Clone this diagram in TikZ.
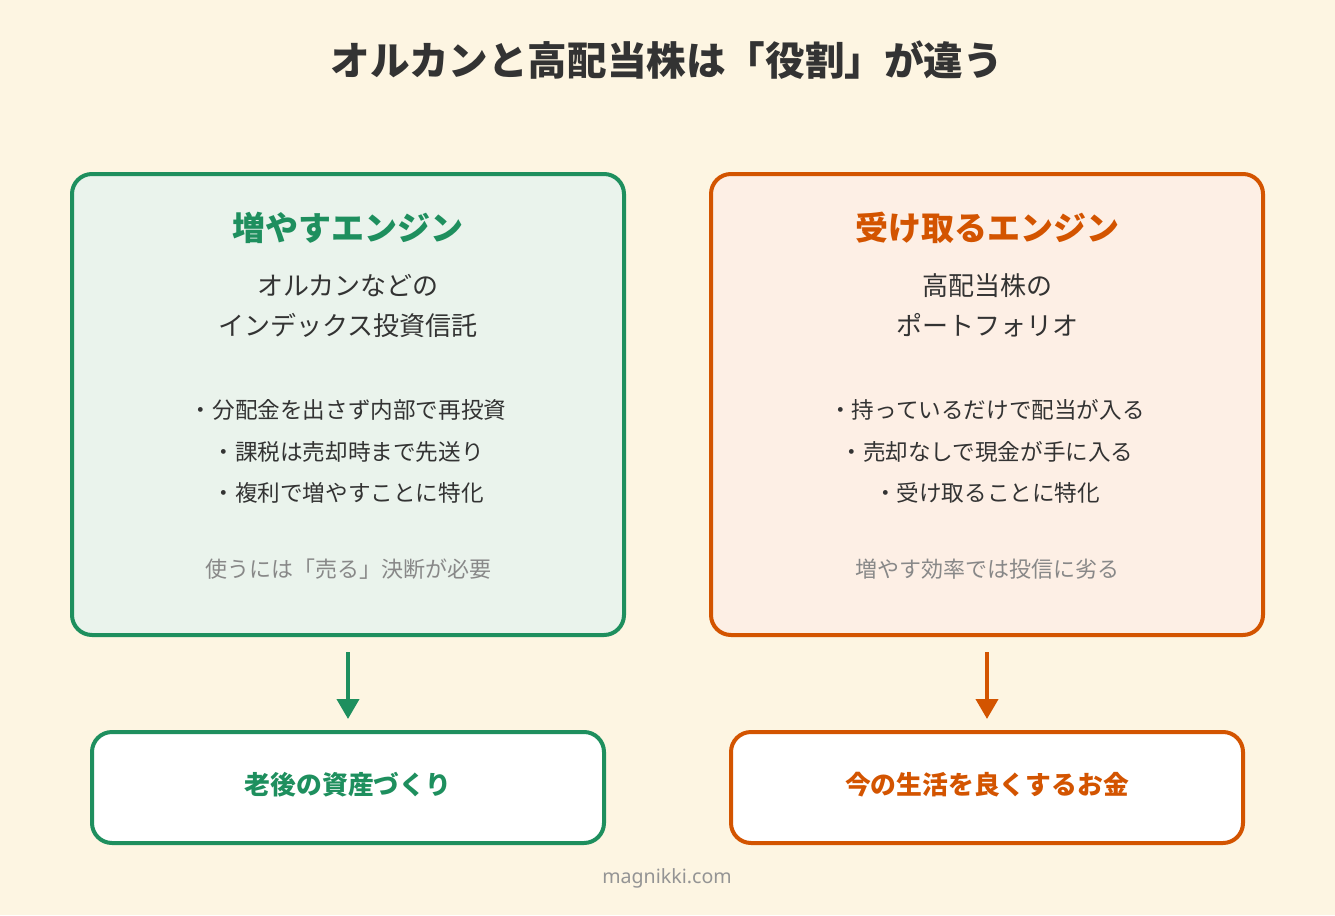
\documentclass[tikz,border=0pt]{standalone}
\usepackage{fontspec}
\setmainfont{Noto Sans CJK JP}
\newfontfamily\latinfont{Noto Sans}
\usetikzlibrary{arrows.meta}
\definecolor{bg}{HTML}{FDF5E2}
\definecolor{grn}{HTML}{1E8F5E}
\definecolor{grnfill}{HTML}{EAF3EC}
\definecolor{org}{HTML}{D35400}
\definecolor{orgfill}{HTML}{FDEFE5}
\definecolor{ink}{HTML}{333333}
\definecolor{muted}{HTML}{888888}
\tikzset{
  engine/.style={draw, line width=4pt, rounded corners=20pt, minimum width=552pt, minimum height=461pt, inner sep=0pt},
  result/.style={draw, fill=white, line width=4pt, rounded corners=20pt, minimum width=512pt, minimum height=111pt, inner sep=0pt},
  heading/.style={font=\fontsize{33}{38}\selectfont\bfseries, inner sep=0pt},
  sub/.style={font=\fontsize{26}{30}\selectfont, text=ink, inner sep=0pt},
  bullet/.style={font=\fontsize{22.6}{26}\selectfont, text=ink, inner sep=0pt},
  note/.style={font=\fontsize{22}{26}\selectfont, text=muted, inner sep=0pt},
  restext/.style={font=\fontsize{25.8}{30}\selectfont\bfseries, inner sep=0pt},
  flow/.style={line width=4pt, -{Triangle[width=22pt,length=20pt]}, shorten <=15pt, shorten >=11pt}
}
\begin{document}
\begin{tikzpicture}[x=1pt,y=-1pt]
\useasboundingbox (0,0) rectangle (1335,915);
\fill[bg] (0,0) rectangle (1335,915);
\node[font=\fontsize{39.6}{44}\selectfont\bfseries, text=ink, inner sep=0pt] (title) at (667,60) {オルカンと高配当株は「役割」が違う};

% left engine
\node[engine, draw=grn, fill=grnfill] (grow) at (348,404.5) {};
\node[heading, text=grn] (growh) at (348,228) {増やすエンジン};
\node[sub] (grows1) at (348,286) {オルカンなどの};
\node[sub] (grows2) at (348,325) {インデックス投資信託};
\node[bullet] (growb1) at (348,410) {・分配金を出さず内部で再投資};
\node[bullet] (growb2) at (348,452) {・課税は売却時まで先送り};
\node[bullet] (growb3) at (348,493) {・複利で増やすことに特化};
\node[note] (grown) at (348,569) {使うには「売る」決断が必要};

% right engine
\node[engine, draw=org, fill=orgfill] (recv) at (987,404.5) {};
\node[heading, text=org] (recvh) at (987,228) {受け取るエンジン};
\node[sub] (recvs1) at (987,286) {高配当株の};
\node[sub] (recvs2) at (987,325) {ポートフォリオ};
\node[bullet] (recvb1) at (987,410) {・持っているだけで配当が入る};
\node[bullet] (recvb2) at (987,452) {・売却なしで現金が手に入る};
\node[bullet] (recvb3) at (987,493) {・受け取ることに特化};
\node[note] (recvn) at (987,569) {増やす効率では投信に劣る};

% results
\node[result, draw=grn] (growr) at (348,787.5) {};
\node[restext, text=grn] (growrt) at (348,785) {老後の資産づくり};
\node[result, draw=org] (recvr) at (987,787.5) {};
\node[restext, text=org] (recvrt) at (987,785) {今の生活を良くするお金};

\draw[flow, grn] (grow.south) -- (growr.north);
\draw[flow, org] (recv.south) -- (recvr.north);

\node[font=\latinfont\fontsize{19.6}{22}\selectfont, text=muted!90, inner sep=0pt] (site) at (667,878) {magnikki.com};
\end{tikzpicture}
\end{document}
